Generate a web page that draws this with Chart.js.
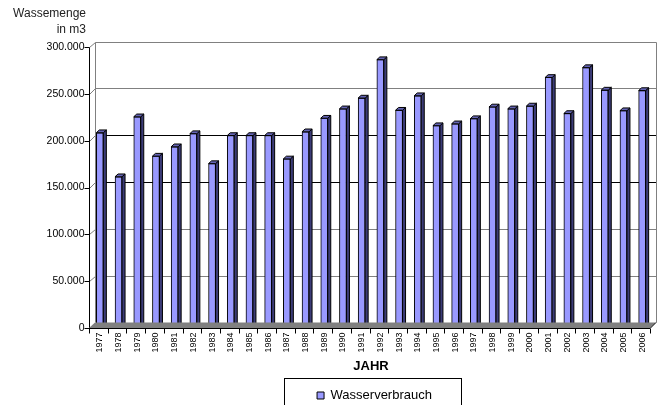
<!DOCTYPE html>
<html>
<head>
<meta charset="utf-8">
<script src="https://cdn.jsdelivr.net/npm/chart.js@4/dist/chart.umd.min.js"></script>
<style>
  html, body { margin: 0; padding: 0; background: #fff; }
  canvas { display: block; }
</style>
</head>
<body>
<canvas id="c" width="667" height="405"></canvas>
<script>
// ---- data ----
const years = ['1977','1978','1979','1980','1981','1982','1983','1984','1985','1986',
               '1987','1988','1989','1990','1991','1992','1993','1994','1995','1996',
               '1997','1998','1999','2000','2001','2002','2003','2004','2005','2006'];
const wasserverbrauch = [207000,160000,224000,182000,192000,206000,174000,204000,204000,204000,
                         179000,208000,222500,232500,244000,285000,231000,246500,214500,216500,
                         222000,234500,232500,235500,266000,227500,276500,252500,230500,252000];
const seriesName = 'Wasserverbrauch';
const yTitleLines = ['Wassemenge', 'in m3'];
const xTitle = 'JAHR';
const yMin = 0, yMax = 300000, yStep = 50000;

const FONT = '"Liberation Sans", Arial, sans-serif';
Chart.defaults.font.family = FONT;
Chart.defaults.color = '#000';

function fmt(v) {
  if (v === 0) return '0';
  const s = String(Math.round(v));
  return s.replace(/\B(?=(\d{3})+(?!\d))/g, '.');
}

// geometry of the pseudo-3D box relative to the bar (scale) plane
const FX = -1.5, FY = 1.4;   // front plane offset
const BX = 4.5, BY = -4.1;   // back plane offset
const DX = 3, DY = -2.75;    // bar depth

function crisp(v) { return Math.round(v) + 0.5; }

const box3d = {
  id: 'box3d',
  afterLayout(chart) {
    const lg = chart.legend;
    if (lg) { lg.left = 286; lg.right = 463; }
  },
  beforeDatasetsDraw(chart) {
    const { ctx, chartArea: ca, scales: { y } } = chart;
    ctx.save();
    ctx.lineWidth = 1;
    const frontL = crisp(ca.left + FX);
    const backL = crisp(ca.left + BX), backR = crisp(ca.right + BX);
    const backTop = crisp(y.getPixelForValue(yMax) + BY);
    const backBot = y.getPixelForValue(yMin) + BY;
    y.ticks.forEach(t => {
      const py = y.getPixelForValue(t.value);
      const by = crisp(py + BY);
      const fy = crisp(py + FY);
      if (t.value > 0) {
        const dark = (t.value === 200000 || t.value === 150000);
        ctx.strokeStyle = dark ? '#000' : '#808080';
        ctx.beginPath(); ctx.moveTo(backL, by); ctx.lineTo(backR, by); ctx.stroke();
        ctx.strokeStyle = '#808080';
        ctx.beginPath(); ctx.moveTo(frontL, fy); ctx.lineTo(backL, by); ctx.stroke();
      }
      ctx.strokeStyle = '#000';
      ctx.beginPath(); ctx.moveTo(frontL - 5, fy); ctx.lineTo(frontL, fy); ctx.stroke();
    });
    ctx.strokeStyle = '#808080';
    ctx.beginPath();
    ctx.moveTo(backL, backTop); ctx.lineTo(backL, backBot);
    ctx.moveTo(backR, backTop); ctx.lineTo(backR, backBot);
    ctx.stroke();
    ctx.strokeStyle = '#000';
    ctx.beginPath();
    ctx.moveTo(frontL, crisp(y.getPixelForValue(yMax) + FY));
    ctx.lineTo(frontL, crisp(y.getPixelForValue(yMin) + FY));
    ctx.stroke();
    ctx.restore();
  },
  afterDatasetsDraw(chart) {
    const { ctx, chartArea: ca, scales: { y } } = chart;
    const meta = chart.getDatasetMeta(0);
    ctx.save();
    ctx.lineWidth = 1;
    ctx.strokeStyle = '#000';
    meta.data.forEach(bar => {
      const p = bar.getProps(['x', 'y', 'base', 'width'], true);
      const l = p.x - p.width / 2, r = p.x + p.width / 2;
      const top = p.y, base = p.base;
      ctx.fillStyle = '#3c3c78';
      ctx.beginPath();
      ctx.moveTo(r, top); ctx.lineTo(r + DX, top + DY);
      ctx.lineTo(r + DX, base + DY); ctx.lineTo(r, base); ctx.closePath();
      ctx.fill(); ctx.stroke();
      ctx.fillStyle = '#6464b4';
      ctx.beginPath();
      ctx.moveTo(l, top); ctx.lineTo(l + DX, top + DY);
      ctx.lineTo(r + DX, top + DY); ctx.lineTo(r, top); ctx.closePath();
      ctx.fill(); ctx.stroke();
    });
    const y0 = y.getPixelForValue(yMin);
    const fL = ca.left + FX, fR = ca.right + FX, fy = y0 + FY;
    const bL = ca.left + BX, bR = ca.right + BX, by = y0 + BY;
    ctx.fillStyle = '#808080';
    ctx.beginPath();
    ctx.moveTo(fL, fy); ctx.lineTo(bL, by); ctx.lineTo(bR, by); ctx.lineTo(fR, fy);
    ctx.closePath(); ctx.fill();
    ctx.strokeStyle = '#000';
    ctx.beginPath();
    ctx.moveTo(fL, crisp(fy)); ctx.lineTo(fR, crisp(fy)); ctx.lineTo(bR, by);
    ctx.stroke();
    const n = years.length;
    const w = (ca.right - ca.left) / n;
    ctx.beginPath();
    for (let i = 0; i <= n; i++) {
      const tx = crisp(ca.left + FX + i * w);
      ctx.moveTo(tx, crisp(fy)); ctx.lineTo(tx, crisp(fy) + 5);
    }
    ctx.stroke();
    ctx.restore();
  },
  afterDraw(chart) {
    const { ctx } = chart;
    ctx.save();
    ctx.fillStyle = '#222';
    ctx.font = '12px ' + FONT;
    ctx.textAlign = 'right';
    ctx.textBaseline = 'middle';
    ctx.fillText(yTitleLines[0], 86, 14);
    ctx.fillText(yTitleLines[1], 86, 30);
    ctx.strokeStyle = '#000';
    ctx.lineWidth = 1;
    ctx.strokeRect(284.5, 378.5, 177, 40);
    ctx.restore();
  }
};

new Chart(document.getElementById('c'), {
  type: 'bar',
  data: {
    labels: years,
    datasets: [{
      label: seriesName,
      data: wasserverbrauch,
      backgroundColor: '#9999ff',
      borderColor: '#000',
      borderWidth: 1,
      barThickness: 7
    }]
  },
  options: {
    responsive: false,
    animation: false,
    events: [],
    layout: { padding: { left: 0, right: 15.5, top: 45.6, bottom: 0 } },
    plugins: {
      legend: {
        position: 'bottom',
        maxHeight: 18,
        labels: {
          font: { size: 13, family: FONT },
          color: '#000',
          boxWidth: 7,
          boxHeight: 7,
          padding: 2
        }
      },
      tooltip: { enabled: false }
    },
    scales: {
      x: {
        grid: { display: false, drawTicks: false },
        border: { display: false },
        ticks: {
          minRotation: 90, maxRotation: 90, autoSkip: false,
          font: { size: 9 }, padding: 6, color: '#000'
        },
        title: {
          display: true, text: xTitle, color: '#000',
          font: { size: 13, weight: 'bold' },
          padding: { top: 2, bottom: 12.5 }
        },
        afterFit(s) { s.height = 60.4; }
      },
      y: {
        min: yMin, max: yMax,
        grid: { display: false, drawTicks: false },
        border: { display: false },
        ticks: {
          stepSize: yStep,
          callback: v => fmt(v),
          font: { size: 10.5 },
          padding: 6,
          labelOffset: 1.4,
          color: '#000'
        },
        afterFit(s) { s.width = 90.5; }
      }
    }
  },
  plugins: [box3d]
});
</script>
</body>
</html>
